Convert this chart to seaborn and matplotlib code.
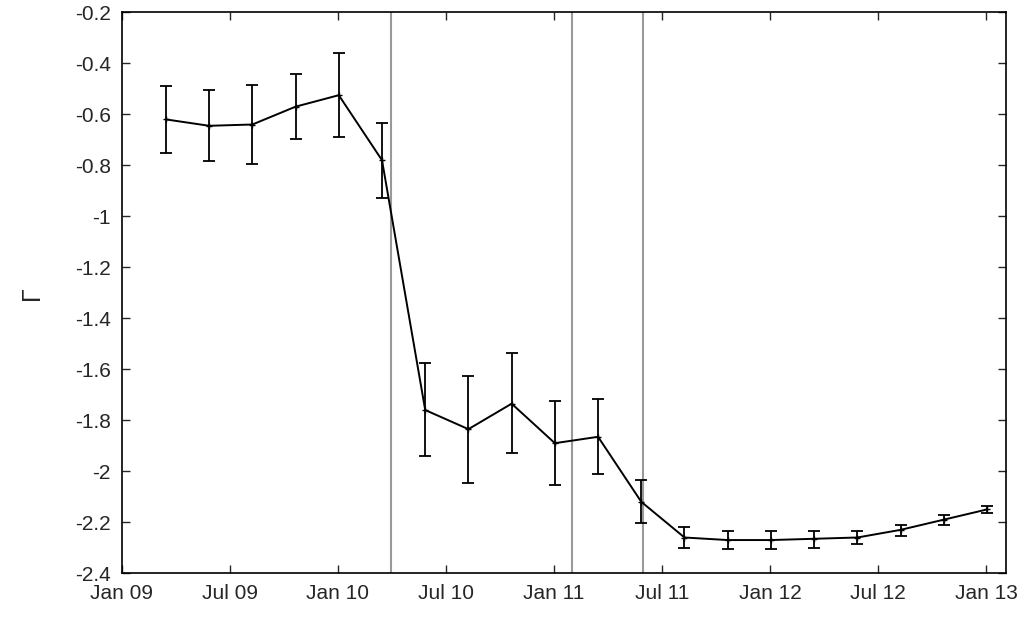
import matplotlib
matplotlib.use("Agg")
import matplotlib.pyplot as plt
import seaborn as sns
import numpy as np
import pandas as pd

sns.set_style("ticks")
plt.rcParams['font.family'] = ['Liberation Sans', 'DejaVu Sans']

x_years = [2009.204, 2009.404, 2009.604, 2009.804, 2010.004, 2010.204, 2010.404, 2010.604,
           2010.804, 2011.004, 2011.204, 2011.404, 2011.604, 2011.804, 2012.004, 2012.204,
           2012.404, 2012.604, 2012.804, 2013.004]
gamma = [-0.62, -0.645, -0.64, -0.57, -0.525, -0.78, -1.76, -1.835, -1.735, -1.89,
         -1.865, -2.12, -2.26, -2.27, -2.27, -2.265, -2.26, -2.23, -2.19, -2.15]
err_hi = [-0.49, -0.505, -0.485, -0.44, -0.36, -0.635, -1.575, -1.625, -1.535, -1.725,
          -1.715, -2.035, -2.22, -2.235, -2.235, -2.235, -2.235, -2.21, -2.17, -2.135]
err_lo = [-0.75, -0.785, -0.795, -0.695, -0.69, -0.93, -1.94, -2.045, -1.93, -2.055,
          -2.01, -2.205, -2.30, -2.305, -2.305, -2.30, -2.285, -2.255, -2.21, -2.165]
vlines = [2010.245, 2011.083, 2011.41]
tick_pos = [2009.0, 2009.5, 2010.0, 2010.5, 2011.0, 2011.5, 2012.0, 2012.5, 2013.0]
tick_labels = ["Jan 09", "Jul 09", "Jan 10", "Jul 10", "Jan 11", "Jul 11", "Jan 12", "Jul 12", "Jan 13"]

df = pd.DataFrame({"x": x_years, "g": gamma})

fig, ax = plt.subplots(figsize=(10.24, 6.17), dpi=100)
fig.subplots_adjust(left=0.119, right=0.982, top=0.98, bottom=0.071)

for v in vlines:
    ax.axvline(v, color="#999999", lw=1.5, zorder=1)

yerr = np.array([np.array(gamma) - np.array(err_lo), np.array(err_hi) - np.array(gamma)])
ax.errorbar(x_years, gamma, yerr=yerr, fmt="none", ecolor="black", elinewidth=1.3, capsize=4, capthick=1.3, zorder=3)
sns.lineplot(data=df, x="x", y="g", ax=ax, color="black", lw=1.4, marker="+", markersize=5,
             mew=1, mec="black", zorder=4)

ax.set_xlim(2009.0, 2013.09)
ax.set_ylim(-2.4, -0.2)
ax.set_xticks(tick_pos)
ax.set_xticklabels(tick_labels)
yt = np.round(np.arange(-2.4, -0.19, 0.2), 1)
ax.set_yticks(yt)
ax.set_yticklabels([("%g" % v) for v in yt])
ax.tick_params(direction="in", length=6, labelsize=15, top=True, right=True, width=1)
ax.tick_params(axis="x", pad=8)
ax.tick_params(axis="y", pad=8)
ax.set_xlabel("")
ax.set_ylabel("Γ", fontsize=18, labelpad=22)
for s in ax.spines.values():
    s.set_linewidth(1.2)
    s.set_color("black")

fig.savefig("out.png", dpi=100)
